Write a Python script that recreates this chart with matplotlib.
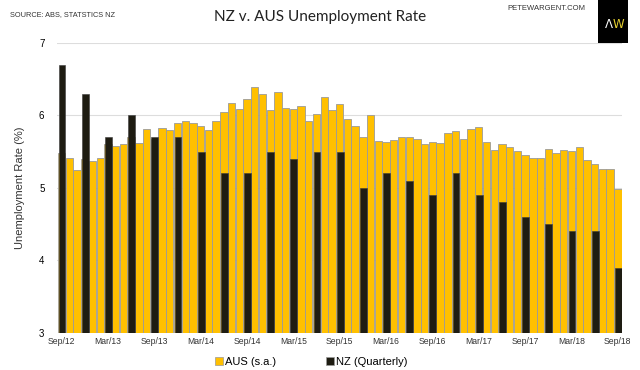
import numpy as np
import pandas as pd
import matplotlib
matplotlib.use('Agg')
import matplotlib.pyplot as plt
from matplotlib.patches import Rectangle, Patch

# monthly AUS unemployment (s.a.), Sep 2012 - Sep 2018
months = pd.date_range('2012-09-01', '2018-09-01', freq='MS')
aus = [5.48, 5.41, 5.25, 5.40,
       5.37, 5.41, 5.60, 5.58, 5.60, 5.71, 5.62, 5.82, 5.68, 5.83, 5.80, 5.89,
       5.92, 5.89, 5.86, 5.80, 5.92, 6.05, 6.17, 6.09, 6.23, 6.39, 6.30, 6.08,
       6.32, 6.11, 6.09, 6.13, 5.92, 6.02, 6.26, 6.08, 6.16, 5.95, 5.86, 5.71,
       6.00, 5.65, 5.63, 5.66, 5.71, 5.70, 5.67, 5.60, 5.64, 5.62, 5.76, 5.78,
       5.67, 5.81, 5.84, 5.64, 5.53, 5.61, 5.56, 5.51, 5.45, 5.41, 5.41, 5.54,
       5.48, 5.52, 5.51, 5.56, 5.38, 5.33, 5.26, 5.26, 4.99]
# quarterly NZ unemployment, Sep 2012 - Sep 2018
nz = [6.7, 6.3, 5.7, 6.0, 5.7, 5.7, 5.5, 5.2, 5.2, 5.5, 5.4, 5.5, 5.5,
      5.0, 5.2, 5.1, 4.9, 5.2, 4.9, 4.8, 4.6, 4.5, 4.4, 4.4, 3.9]
tick_labels = ['Sep/12', 'Mar/13', 'Sep/13', 'Mar/14', 'Sep/14', 'Mar/15', 'Sep/15',
               'Mar/16', 'Sep/16', 'Mar/17', 'Sep/17', 'Mar/18', 'Sep/18']

yellow = '#FFC000'
dark = '#1E1C12'

fig = plt.figure(figsize=(6.4, 3.7), dpi=100)
ax = fig.add_axes([0.089, 0.1, 0.883, 0.7838])

x = np.arange(len(months))
ax.bar(x, np.array(aus) - 3, bottom=3, width=0.95, color=yellow,
       edgecolor='#9a9a9a', linewidth=0.6, zorder=2)
xq = x[::3]
ax.bar(xq + 0.06, np.array(nz) - 3, bottom=3, width=0.88, color=dark,
       edgecolor='#3a3a3a', linewidth=0.4, zorder=3)

ax.set_ylim(3, 7)
ax.set_xlim(-0.6, 72.55)
ax.set_yticks([3, 4, 5, 6, 7])
ax.set_yticklabels(['3', '4', '5', '6', '7'], fontsize=7, family='Liberation Sans')
ax.set_xticks(x[::6])
ax.set_xticklabels(tick_labels, fontsize=6.2, family='Liberation Sans', color='#333333')
ax.tick_params(length=0, pad=3)
ax.tick_params(axis='y', pad=9)
ax.grid(axis='y', color='#dddddd', linewidth=0.8, zorder=0)
for s in ax.spines.values():
    s.set_visible(False)
ax.set_ylabel('Unemployment Rate (%)', fontsize=8, family='Liberation Sans',
              color='#333333', labelpad=10)

fig.text(0.5, 0.955, 'NZ v. AUS Unemployment Rate', ha='center', va='center',
         fontsize=11, family='Lato', color='#222222')
fig.text(0.016, 0.962, 'SOURCE: ABS, STATSTICS NZ', ha='left', va='center',
         fontsize=5.3, family='Liberation Sans', color='#333333')
fig.text(0.914, 0.978, 'PETEWARGENT.COM', ha='right', va='center',
         fontsize=5.5, family='Liberation Sans', color='#333333')

# logo box
fig.patches.append(Rectangle((0.934, 0.884), 0.047, 0.116, transform=fig.transFigure,
                             facecolor='black', edgecolor='none'))
fig.text(0.9575, 0.935, 'Λ', ha='right', va='center', fontsize=8.5, color='white',
         family='DejaVu Sans')
fig.text(0.9575, 0.935, 'W', ha='left', va='center', fontsize=8.5, color='#e6d030',
         family='DejaVu Sans')

handles = [Patch(facecolor=yellow, edgecolor='#9a9a9a', linewidth=0.5, label='AUS (s.a.)'),
           Patch(facecolor=dark, edgecolor='#9a9a9a', linewidth=0.5, label='NZ (Quarterly)')]
fig.legend(handles=handles, loc='center', bbox_to_anchor=(0.487, 0.022), ncol=2,
           frameon=False, handlelength=0.7, handleheight=0.8, handletextpad=0.2,
           columnspacing=4.5, prop={'family': 'Liberation Sans', 'size': 8})

fig.savefig('out.png', dpi=100)
